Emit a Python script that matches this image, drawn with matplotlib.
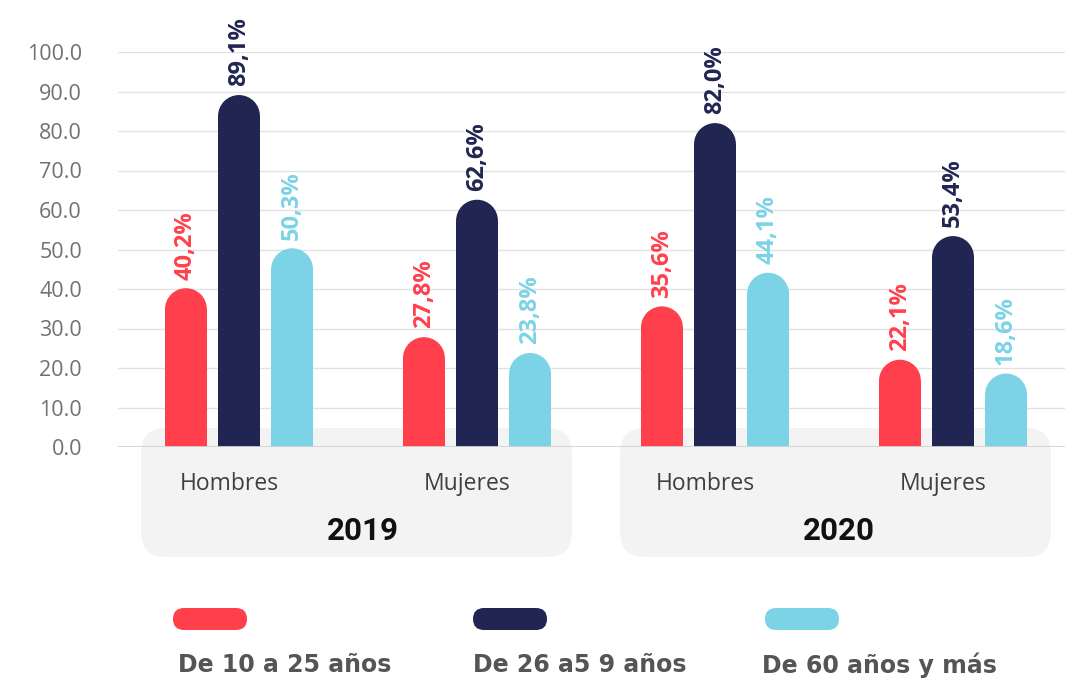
import matplotlib
matplotlib.use("Agg")
import matplotlib.pyplot as plt
from matplotlib.patches import Rectangle, Ellipse, FancyBboxPatch
from matplotlib import transforms

# ---- data ----
years = ["2019", "2020"]
sexes = ["Hombres", "Mujeres"]
categories = ["Hombres", "Mujeres", "Hombres", "Mujeres"]
series_names = ["De 10 a 25 años", "De 26 a5 9 años", "De 60 años y más"]
young = [40.2, 27.8, 35.6, 22.1]
middle = [89.1, 62.6, 82.0, 53.4]
old = [50.3, 23.8, 44.1, 18.6]
series = [young, middle, old]
colors = ["#FF404C", "#202651", "#7CD3E6"]
yticks = [0, 10, 20, 30, 40, 50, 60, 70, 80, 90, 100]

W, H = 1065, 678
fig = plt.figure(figsize=(W / 100, H / 100), dpi=100)
px = transforms.Affine2D().scale(1 / W, 1 / H) + fig.transFigure

# grey rounded panels behind each year group
for x0 in (141, 620):
    fig.patches.append(FancyBboxPatch((x0, 121), 431, 129,
                                      boxstyle="round,pad=0,rounding_size=25",
                                      transform=px, facecolor="#f3f3f3",
                                      edgecolor="none", zorder=0))

ax = fig.add_axes([118 / W, 231 / H, (W - 118) / W, 395 / H])
ax.set_facecolor("none")
ax.set_zorder(1)
xmin, xmax = (118 - 239) / 238, (1065 - 239) / 238
ax.set_xlim(xmin, xmax)
ax.set_ylim(0, 100)
for s in ax.spines.values():
    s.set_visible(False)
ax.set_xticks([])
ax.set_yticks(yticks)
ax.set_yticklabels([f"{v:.1f}" for v in yticks], fontfamily="Open Sans",
                   fontsize=15.5, color="#717171")
ax.tick_params(axis="y", length=0, pad=26)
for v in yticks[1:]:
    ax.axhline(v, color="#e2e2e2", lw=1, zorder=0.5)
ax.axhline(0, color="#d2d2d2", lw=2, zorder=3)

bw = 0.176
off = 0.223
# radius of the rounded cap in data units
ax_w_px = W - 118
ax_h_px = 395
rx = bw / 2
ry = rx * (ax_w_px / (xmax - xmin)) / (ax_h_px / 100)

for gi in range(len(categories)):
    for si, vals in enumerate(series):
        x = gi + (si - 1) * off
        v = vals[gi]
        ax.add_patch(Rectangle((x - bw / 2, 0), bw, v - ry, facecolor=colors[si],
                               edgecolor="none", zorder=2))
        ax.add_patch(Ellipse((x, v - ry), bw, 2 * ry, facecolor=colors[si],
                             edgecolor="none", zorder=2))
        ax.text(x, v + 2.2, f"{v:.1f}%".replace(".", ","), rotation=90,
                ha="center", va="bottom", color=colors[si], fontsize=17,
                fontfamily="Open Sans", fontweight="bold", clip_on=False)
    ax.text(gi - 0.04, -9.4, categories[gi], ha="center", va="center",
            fontsize=16.5, fontfamily="Open Sans", color="#3f3f3f",
            clip_on=False)

for yi, yr in enumerate(years):
    ax.text(2 * yi + 0.52, -21.3, yr, ha="center", va="center",
            fontsize=22.5, fontfamily="Roboto", fontweight="bold", color="#111111",
            clip_on=False)

# legend
for lx, tx, name, c in zip((173, 473, 765), (178, 473, 762), series_names, colors):
    fig.patches.append(FancyBboxPatch((lx, 48), 74, 22,
                                      boxstyle="round,pad=0,rounding_size=11",
                                      transform=px, facecolor=c, edgecolor="none"))
    fig.text(tx, 13, name, transform=px, ha="left", va="center", fontsize=17,
             fontfamily="DejaVu Sans", fontweight="bold", color="#555555")

fig.savefig("out.png", dpi=100, facecolor="white")
